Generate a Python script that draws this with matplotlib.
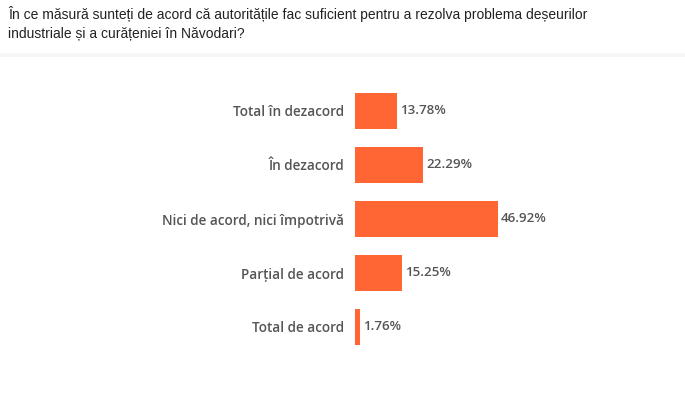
import matplotlib.pyplot as plt

# date din sondaj
categorii = ['Total în dezacord', 'În dezacord', 'Nici de acord, nici împotrivă',
             'Parțial de acord', 'Total de acord']
procente = [13.78, 22.29, 46.92, 15.25, 1.76]
titlu = ('În ce măsură sunteți de acord că autoritățile fac suficient pentru a rezolva problema deșeurilor\n'
         'industriale și a curățeniei în Năvodari?')

W, H = 685, 399
fig = plt.figure(figsize=(W / 100, H / 100), dpi=100)

fig.text(8 / W, 1 - 6 / H, titlu, ha='left', va='top', fontsize=10,
         family='Liberation Sans', color='#222222', linespacing=1.45)

# linie separatoare sub titlu (foarte discreta)
fig.add_artist(plt.Line2D([0, 1], [1 - 54.5 / H, 1 - 54.5 / H], color='#f6f6f6', lw=2.6))

ax = fig.add_axes([355 / W, 45 / H, 305 / W, 270 / H])
y = range(len(categorii))
bars = ax.barh(y, procente, height=0.66, color='#ff6633')
ax.set_xlim(0, 100)
ax.set_ylim(len(categorii) - 0.5, -0.5)

for b, v in zip(bars, procente):
    ax.text(b.get_width() + 1.0, b.get_y() + b.get_height() / 2, f'{v:.2f}%',
            va='center', ha='left', fontsize=9.6, family='Open Sans',
            weight='semibold', color='#555555')

ax.set_yticks(list(y))
ax.set_yticklabels(categorii, fontsize=9.8, family='Open Sans', weight='semibold',
                   color='#555555')
ax.tick_params(axis='y', length=0, pad=8)
ax.set_xticks([])
for s in ax.spines.values():
    s.set_visible(False)

fig.savefig('out.png', dpi=100)
